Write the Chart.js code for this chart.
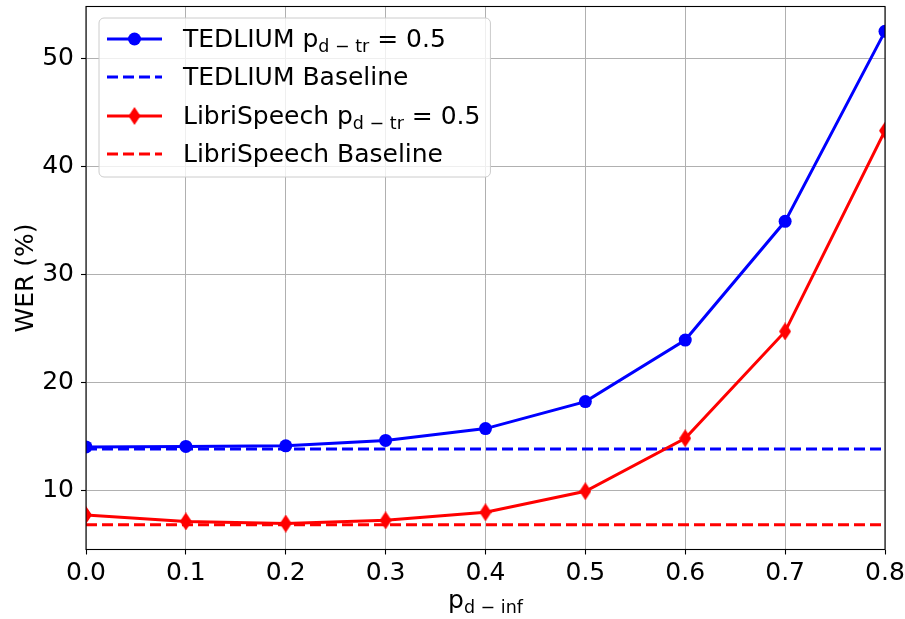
<!DOCTYPE html>
<html><head><meta charset="utf-8">
<script src="https://cdn.jsdelivr.net/npm/chart.js@4.4.0/dist/chart.umd.min.js"></script>
<style>html,body{margin:0;padding:0;background:#fff;}canvas{display:block;}</style>
</head><body>
<canvas id="c" width="905" height="619"></canvas>
<script>
// ---- data ----
const pInf = [0.0, 0.1, 0.2, 0.3, 0.4, 0.5, 0.6, 0.7, 0.8];
const tedliumWER = [14.0, 14.05, 14.1, 14.6, 15.7, 18.2, 23.9, 34.9, 52.5];
const tedliumBaselineWER = [13.8, 13.8, 13.8, 13.8, 13.8, 13.8, 13.8, 13.8, 13.8];
const libriWER = [7.7, 7.1, 6.9, 7.2, 7.95, 9.9, 14.8, 24.7, 43.3];
const libriBaselineWER = [6.8, 6.8, 6.8, 6.8, 6.8, 6.8, 6.8, 6.8, 6.8];
const xTicks = [0.0, 0.1, 0.2, 0.3, 0.4, 0.5, 0.6, 0.7, 0.8];
const yTicks = [10, 20, 30, 40, 50];
const seriesLabels = ['TEDLIUM p_{d − tr} = 0.5', 'TEDLIUM Baseline', 'LibriSpeech p_{d − tr} = 0.5', 'LibriSpeech Baseline'];
const xTitle = 'p_{d − inf}';
const yTitle = 'WER (%)';

// ---- style ----
const FONT = "'DejaVu Sans', sans-serif";
const FS = 25;

function thinDiamond(w, h, color) {
  const c = document.createElement('canvas');
  c.width = w; c.height = h;
  const g = c.getContext('2d');
  g.fillStyle = color;
  g.beginPath();
  g.moveTo(w / 2, 0); g.lineTo(w, h / 2); g.lineTo(w / 2, h); g.lineTo(0, h / 2);
  g.closePath(); g.fill();
  return c;
}
const diamond = thinDiamond(12, 18, '#ff0000');

function pts(xs, ys) { return xs.map((x, i) => ({ x: x, y: ys[i] })); }

function parseRich(s) {
  const parts = []; const re = /_\{([^}]*)\}/g; let last = 0, m;
  while ((m = re.exec(s))) {
    if (m.index > last) parts.push({ t: s.slice(last, m.index), sub: false });
    parts.push({ t: m[1], sub: true });
    last = re.lastIndex;
  }
  if (last < s.length) parts.push({ t: s.slice(last), sub: false });
  return parts;
}
function richWidth(ctx, parts, size) {
  let w = 0;
  for (const p of parts) { ctx.font = (p.sub ? size * 0.7 : size) + 'px ' + FONT; w += ctx.measureText(p.t).width; }
  return w;
}
function drawRich(ctx, parts, x, y, size) {
  ctx.textAlign = 'left'; ctx.textBaseline = 'alphabetic';
  for (const p of parts) {
    ctx.font = (p.sub ? size * 0.7 : size) + 'px ' + FONT;
    ctx.fillText(p.t, x, p.sub ? y + size * 0.21 : y);
    x += ctx.measureText(p.t).width;
  }
}

const decorPlugin = {
  id: 'decor',
  afterDatasetsDraw(chart) {
    const ctx = chart.ctx; const a = chart.chartArea;
    ctx.save();
    // spines
    ctx.strokeStyle = '#000'; ctx.lineWidth = 1.1;
    ctx.strokeRect(a.left, a.top, a.right - a.left, a.bottom - a.top);
    // legend
    const lx = 99, ly = 18, textX = 183;
    const baselines = [47, 85, 124, 162];
    let maxW = 0;
    const parsed = chart.data.datasets.map(d => parseRich(d.label));
    parsed.forEach(p => { maxW = Math.max(maxW, richWidth(ctx, p, FS)); });
    const bw = textX + maxW + 10 - lx, bh = 159;
    ctx.beginPath();
    ctx.roundRect(lx, ly, bw, bh, 5);
    ctx.fillStyle = 'rgba(255,255,255,0.8)'; ctx.fill();
    ctx.strokeStyle = '#cccccc'; ctx.lineWidth = 1; ctx.stroke();
    chart.data.datasets.forEach((d, i) => {
      const yy = baselines[i] - 8;
      ctx.strokeStyle = d.borderColor; ctx.lineWidth = d.borderWidth;
      ctx.setLineDash(d.borderDash || []);
      ctx.beginPath(); ctx.moveTo(107, yy); ctx.lineTo(162, yy); ctx.stroke();
      ctx.setLineDash([]);
      if (d.pointRadius > 0) {
        if (d.pointStyle === 'circle') {
          ctx.fillStyle = d.pointBackgroundColor;
          ctx.beginPath(); ctx.arc(134.5, yy, d.pointRadius, 0, Math.PI * 2); ctx.fill();
        } else {
          ctx.drawImage(d.pointStyle, 134.5 - d.pointStyle.width / 2, yy - d.pointStyle.height / 2);
        }
      }
      ctx.fillStyle = '#000';
      drawRich(ctx, parsed[i], textX, baselines[i], FS);
    });
    // axis titles
    ctx.fillStyle = '#000';
    const xp = parseRich(xTitle);
    const xw = richWidth(ctx, xp, FS);
    drawRich(ctx, xp, (a.left + a.right) / 2 - xw / 2, 608, FS);
    ctx.translate(33, (a.top + a.bottom) / 2);
    ctx.rotate(-Math.PI / 2);
    ctx.font = FS + 'px ' + FONT; ctx.textAlign = 'center'; ctx.textBaseline = 'alphabetic';
    ctx.fillText(yTitle, 0, 0);
    ctx.restore();
  }
};

const lineBase = { fill: false, tension: 0, clip: 0, borderWidth: 3 };
new Chart(document.getElementById('c'), {
  type: 'line',
  data: {
    datasets: [
      Object.assign({}, lineBase, { label: seriesLabels[0], data: pts(pInf, tedliumWER), borderColor: '#0000ff', backgroundColor: '#0000ff',
        pointStyle: 'circle', pointRadius: 6.5, pointBackgroundColor: '#0000ff', pointBorderWidth: 0, order: 4 }),
      Object.assign({}, lineBase, { label: seriesLabels[1], data: pts(pInf, tedliumBaselineWER), borderColor: '#0000ff', borderDash: [11, 5],
        pointRadius: 0, order: 3 }),
      Object.assign({}, lineBase, { label: seriesLabels[2], data: pts(pInf, libriWER), borderColor: '#ff0000', backgroundColor: '#ff0000',
        pointStyle: diamond, pointRadius: 6, pointBackgroundColor: '#ff0000', pointBorderWidth: 0, order: 2 }),
      Object.assign({}, lineBase, { label: seriesLabels[3], data: pts(pInf, libriBaselineWER), borderColor: '#ff0000', borderDash: [11, 5],
        pointRadius: 0, order: 1 })
    ]
  },
  options: {
    responsive: false, animation: false,
    layout: { padding: { left: 0, right: 20, top: 5, bottom: 0 } },
    plugins: { legend: { display: false }, tooltip: { enabled: false } },
    scales: {
      x: {
        type: 'linear', min: 0, max: 0.8,
        afterBuildTicks(s) { s.ticks = xTicks.map(v => ({ value: v })); },
        afterFit(s) { s.height = 69.5; s.paddingLeft = 0; s.paddingRight = 0; },
        grid: { color: '#b0b0b0', lineWidth: 1, tickColor: '#000', tickLength: 5, tickWidth: 1.1 },
        border: { display: false },
        ticks: { color: '#000', font: { family: FONT, size: FS }, padding: 4, maxRotation: 0, autoSkip: false,
          callback: v => Number(v).toFixed(1) }
      },
      y: {
        type: 'linear', min: 4.5, max: 54.8,
        afterBuildTicks(s) { s.ticks = yTicks.map(v => ({ value: v })); },
        afterFit(s) { s.width = 86; s.paddingTop = 0; s.paddingBottom = 0; },
        grid: { color: '#b0b0b0', lineWidth: 1, tickColor: '#000', tickLength: 5, tickWidth: 1.1 },
        border: { display: false },
        ticks: { color: '#000', font: { family: FONT, size: FS }, padding: 7, autoSkip: false,
          callback: v => String(v) }
      }
    }
  },
  plugins: [decorPlugin]
});
</script>
</body></html>
